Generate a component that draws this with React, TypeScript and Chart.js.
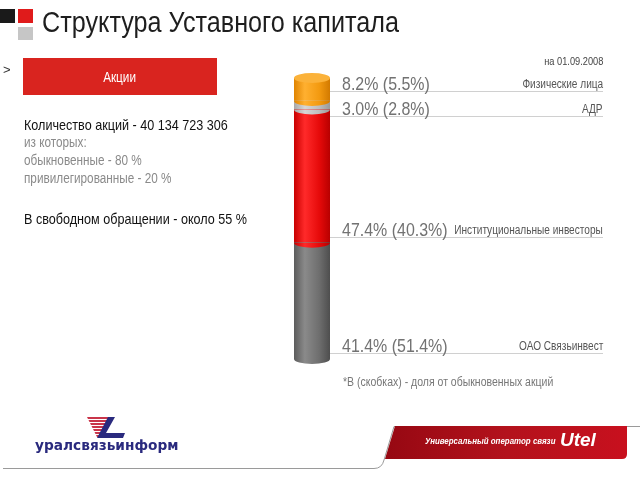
import React, { useEffect, useRef } from "react";
import { Chart, registerables } from "chart.js";

Chart.register(...registerables);

// ---- data ----
const categories = ["Структура"];
const holders = ["ОАО Связьинвест", "Институциональные инвесторы", "АДР", "Физические лица"];
const sharesTotal = [41.4, 47.4, 3.0, 8.2];
const sharesOrdinary = [51.4, 40.3, 2.8, 5.5];
const segmentColors = [
  ["#5c5c5c", "#8a8a8a", "#6e6e6e", "#4e4e4e"],
  ["#c80000", "#ff2a2a", "#e60a0a", "#b80000"],
  ["#a8a8a8", "#d6d6d6", "#bdbdbd", "#9a9a9a"],
  ["#e08400", "#ffb030", "#f39a10", "#d27a00"],
];
const capColor = "#fbb23a";

const FONT = "'Liberation Sans', 'DejaVu Sans', sans-serif";
const SX = 0.84;

function makeGradient(ctx: CanvasRenderingContext2D, left: number, right: number, stops: string[]) {
  const g = ctx.createLinearGradient(left, 0, right, 0);
  g.addColorStop(0, stops[0]);
  g.addColorStop(0.3, stops[1]);
  g.addColorStop(0.7, stops[2]);
  g.addColorStop(1, stops[3]);
  return g;
}

const cylinderPlugin = {
  id: "cylinder",
  afterDatasetsDraw(chart: any) {
    const ctx: CanvasRenderingContext2D = chart.ctx;
    const n = chart.data.datasets.length;
    ctx.save();
    for (let i = 0; i < n; i++) {
      const el = chart.getDatasetMeta(i).data[0];
      if (!el) continue;
      const { x, y, base, width } = el.getProps(["x", "y", "base", "width"], true);
      const rx = width / 2;
      const ry = 5;
      ctx.fillStyle = makeGradient(ctx, x - rx, x + rx, segmentColors[i]);
      ctx.beginPath();
      ctx.ellipse(x, base, rx, ry, 0, 0, Math.PI);
      ctx.fill();
      if (i === n - 1) {
        ctx.fillStyle = capColor;
        ctx.beginPath();
        ctx.ellipse(x, y, rx, ry, 0, 0, Math.PI * 2);
        ctx.fill();
      }
    }
    ctx.restore();
  },
};

function Narrow({ children, style, origin = "left" }: { children: React.ReactNode; style?: React.CSSProperties; origin?: string }) {
  return (
    <span
      style={{
        display: "inline-block",
        whiteSpace: "nowrap",
        transform: `scaleX(${SX})`,
        transformOrigin: `${origin} bottom`,
        ...style,
      }}
    >
      {children}
    </span>
  );
}

function Label({ top, big, small }: { top: number; big: string; small: string }) {
  return (
    <div
      style={{
        position: "absolute",
        left: 330,
        top: top - 22,
        width: 273,
        height: 22,
        borderBottom: "1px solid #d0d0d0",
        boxSizing: "border-box",
      }}
    >
      <div style={{ position: "absolute", left: 12, bottom: -3 }}>
        <Narrow style={{ fontSize: 19, color: "#727272", lineHeight: "17px" }}>{big}</Narrow>
      </div>
      <div style={{ position: "absolute", right: 0, bottom: -1 }}>
        <Narrow origin="right" style={{ fontSize: 12, color: "#555", lineHeight: "12px" }}>
          {small}
        </Narrow>
      </div>
    </div>
  );
}

export default function App() {
  const ref = useRef<HTMLCanvasElement>(null);
  useEffect(() => {
    document.body.style.margin = "0";
    const chart = new Chart(ref.current!, {
      type: "bar",
      data: {
        labels: categories,
        datasets: holders.map((h, i) => ({
          label: h,
          data: [sharesTotal[i]],
          borderWidth: 0,
          backgroundColor: (c: any) => {
            const a = c.chart.chartArea;
            if (!a) return segmentColors[i][2];
            return makeGradient(c.chart.ctx, a.left, a.right, segmentColors[i]);
          },
          barPercentage: 1,
          categoryPercentage: 1,
        })),
      },
      options: {
        responsive: false,
        animation: false,
        layout: { padding: { left: 294, right: 310, top: 78, bottom: 121 } },
        plugins: { legend: { display: false }, tooltip: { enabled: false } },
        scales: {
          x: { stacked: true, display: false },
          y: { stacked: true, display: false, min: 0, max: 100 },
        },
      },
      plugins: [cylinderPlugin],
    });
    return () => chart.destroy();
  }, []);

  const labelTops = [354, 238, 117, 92];
  const grayLine = { color: "#8a8a8a", fontSize: 14 };

  return (
    <div style={{ position: "relative", width: 640, height: 480, background: "#fff", fontFamily: FONT, overflow: "hidden" }}>
      <canvas ref={ref} width={640} height={480} style={{ position: "absolute", left: 0, top: 0 }} />
      {/* title */}
      <div style={{ position: "absolute", left: 0, top: 9, width: 15, height: 14, background: "#1a1a1a" }} />
      <div style={{ position: "absolute", left: 18, top: 9, width: 15, height: 14, background: "#e01b1b" }} />
      <div style={{ position: "absolute", left: 18, top: 27, width: 15, height: 13, background: "#c6c6c6" }} />
      <div style={{ position: "absolute", left: 42, top: 4, fontSize: 30, lineHeight: "36px", color: "#1e1e1e" }}>
        <Narrow>Структура Уставного капитала</Narrow>
      </div>
      {/* left block */}
      <div style={{ position: "absolute", left: 3, top: 62, fontSize: 13, color: "#333" }}>&gt;</div>
      <div
        style={{
          position: "absolute",
          left: 23,
          top: 58,
          width: 194,
          height: 37,
          background: "#d9241f",
          color: "#fff",
          fontSize: 14,
          display: "flex",
          alignItems: "center",
          justifyContent: "center",
        }}
      >
        <Narrow origin="center">Акции</Narrow>
      </div>
      <div style={{ position: "absolute", left: 24, top: 116, fontSize: 15, lineHeight: "17px", color: "#111" }}>
        <div><Narrow>Количество акций - 40 134 723 306</Narrow></div>
        <div><Narrow style={grayLine}>из которых:</Narrow></div>
        <div><Narrow style={grayLine}>обыкновенные - 80 %</Narrow></div>
        <div><Narrow style={grayLine}>привилегированные - 20 %</Narrow></div>
        <div style={{ marginTop: 23 }}><Narrow>В свободном обращении - около 55 %</Narrow></div>
      </div>
      {/* right labels */}
      <div style={{ position: "absolute", right: 37, top: 55, fontSize: 11, color: "#444" }}>
        <Narrow origin="right">на 01.09.2008</Narrow>
      </div>
      {holders.map((h, i) => (
        <Label key={h} top={labelTops[i]} big={`${sharesTotal[i].toFixed(1)}% (${sharesOrdinary[i].toFixed(1)}%)`} small={h} />
      ))}
      <div style={{ position: "absolute", left: 343, top: 375, fontSize: 12.5, color: "#777" }}>
        <Narrow>*В (скобках) - доля от обыкновенных акций</Narrow>
      </div>
      {/* footer */}
      <svg width={640} height={480} style={{ position: "absolute", left: 0, top: 0, pointerEvents: "none" }}>
        <defs>
          <linearGradient id="ban" x1="0" x2="1" y1="0" y2="0">
            <stop offset="0" stopColor="#960812" />
            <stop offset="0.5" stopColor="#b3121c" />
            <stop offset="1" stopColor="#c8101e" />
          </linearGradient>
        </defs>
        <path d="M3 468.5 L374 468.5 Q382 468.5 384 460 L394 426.5 L640 426.5" fill="none" stroke="#9a9a9a" strokeWidth={1} />
        <path d="M395 426 L627 426 L627 454 Q627 459 622 459 L385 459 Z" fill="url(#ban)" />
        <polygon points="87,417 111,417 101,437 97,437" fill="#c9354a" />
        {[419.5, 422.5, 425.5, 428.5, 431.5, 434.5].map((yy) => (
          <line key={yy} x1={85} x2={112} y1={yy} y2={yy} stroke="#fff" strokeWidth={1} />
        ))}
        <polygon points="108,417 115,417 106,433 125,433 123,438 97,438" fill="#2a2a7e" />
      </svg>
      <div style={{ position: "absolute", left: 35, top: 437, fontSize: 14, fontWeight: "bold", color: "#2a2a7e", fontFamily: "'DejaVu Sans', sans-serif" }}>
        <span style={{ display: "inline-block", transform: "scaleX(0.98)", transformOrigin: "left", whiteSpace: "nowrap" }}>уралсвязьинформ</span>
      </div>
      <div style={{ position: "absolute", left: 425, top: 436, fontSize: 9, fontStyle: "italic", fontWeight: "bold", color: "#fff" }}>
        <span style={{ display: "inline-block", transform: "scaleX(0.88)", transformOrigin: "left", whiteSpace: "nowrap" }}>Универсальный оператор связи</span>
      </div>
      <div style={{ position: "absolute", left: 560, top: 429, fontSize: 19, fontStyle: "italic", fontWeight: "bold", color: "#fff" }}>
        Utel
      </div>
    </div>
  );
}
